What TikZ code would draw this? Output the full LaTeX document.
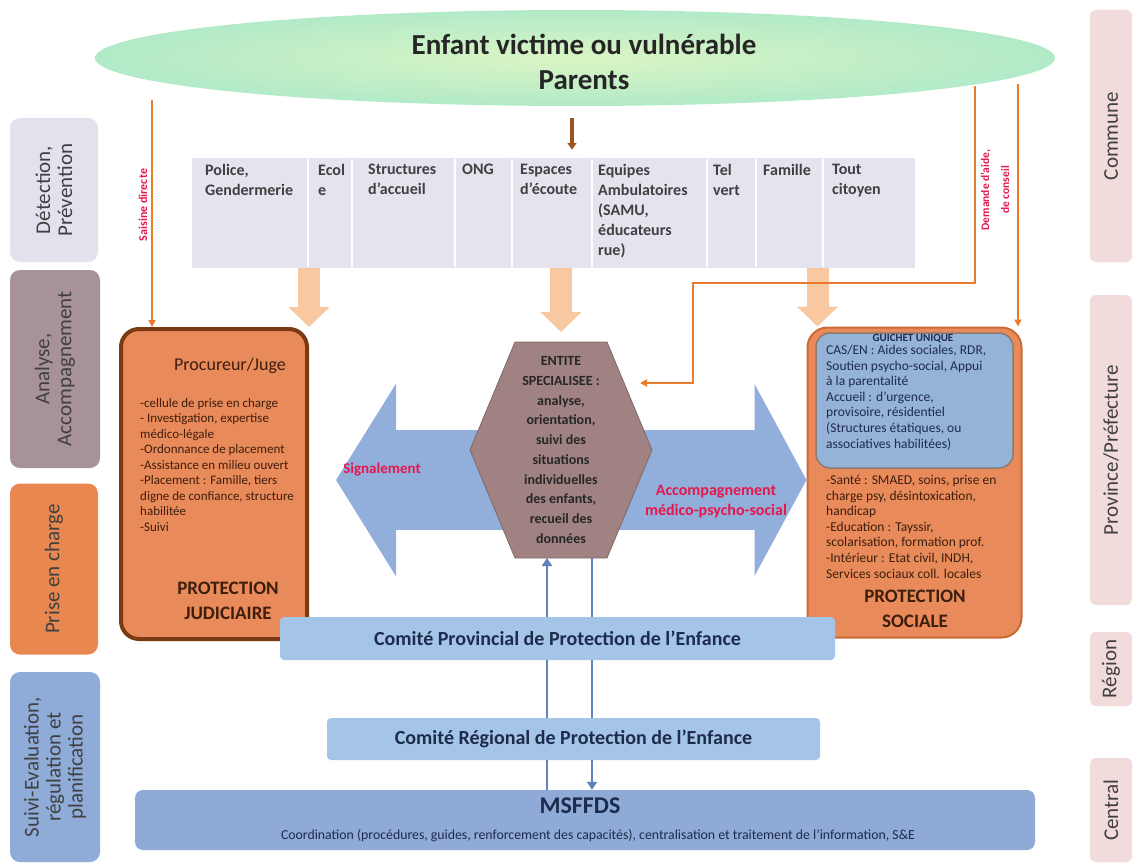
\documentclass[tikz,border=0pt]{standalone}
\usepackage{fontspec}
\setmainfont{Carlito}
\usetikzlibrary{arrows.meta, positioning, shapes.geometric, calc}

\definecolor{ellgreen}{HTML}{DAF5C4}
\definecolor{ellcyan}{HTML}{B2EAC8}
\definecolor{detfill}{HTML}{E3E1EB}
\definecolor{anafill}{HTML}{A8929A}
\definecolor{prisefill}{HTML}{E8874F}
\definecolor{suivifill}{HTML}{8FABD8}
\definecolor{levelfill}{HTML}{F2DCDB}
\definecolor{tablefill}{HTML}{E5E3EE}
\definecolor{boxorange}{HTML}{E98A5B}
\definecolor{judborder}{HTML}{7A3A12}
\definecolor{socborder}{HTML}{CC6A34}
\definecolor{guichetblue}{HTML}{95B3D7}
\definecolor{guichetborder}{HTML}{8C7B73}
\definecolor{peach}{HTML}{F8C8A0}
\definecolor{bigblue}{HTML}{92AEDA}
\definecolor{hexfill}{HTML}{A08282}
\definecolor{comblue}{HTML}{A4C5E8}
\definecolor{minblue}{HTML}{8FAAD6}
\definecolor{redlabel}{HTML}{E5174D}
\definecolor{linkorange}{HTML}{E87B2C}
\definecolor{linkbrown}{HTML}{A0521C}
\definecolor{linkblue}{HTML}{5F82BF}
\definecolor{navytext}{HTML}{1D2B4C}
\definecolor{browntext}{HTML}{3E1E0C}
\definecolor{labeltext}{HTML}{404040}

\tikzset{
  stagebox/.style={rounded corners=10pt, rotate=90, align=center, text=labeltext, font=\fontsize{21}{22}\selectfont, inner sep=2pt},
  levelbox/.style={rounded corners=6pt, rotate=90, fill=levelfill, text=labeltext, font=\fontsize{21}{22}\selectfont, minimum height=42pt},
  celltext/.style={anchor=north west, align=left, text=labeltext, font=\bfseries\fontsize{16}{20}\selectfont, inner sep=0pt},
  smalllist/.style={anchor=north west, align=left, font=\fontsize{13}{15.5}\selectfont, inner sep=0pt},
  protect/.style={align=center, text=browntext, font=\bfseries\fontsize{19}{25}\selectfont},
  blockarrow/.style={peach, line width=22pt, -{Triangle[width=40pt,length=20pt]}},
  bigarrow/.style={bigblue, line width=100pt, {Triangle[width=190pt,length=60pt]}-{Triangle[width=190pt,length=52pt]}},
  orangelink/.style={linkorange, line width=1.8pt, -{Triangle[width=7pt,length=7pt]}},
  brownlink/.style={linkbrown, line width=3.5pt, -{Triangle[width=9pt,length=7pt]}},
  bluelink/.style={linkblue, line width=2.5pt},
  redtext/.style={text=redlabel, font=\bfseries\fontsize{15}{19}\selectfont, align=center},
  comite/.style={fill=comblue, rounded corners=4pt, text=navytext, font=\bfseries\fontsize{20}{24}\selectfont},
}

\begin{document}
\begin{tikzpicture}[x=1pt, y=-1pt]
    \useasboundingbox (0,0) rectangle (1134,867);

    % Enfant / Parents
    \node[ellipse, minimum width=960pt, minimum height=96pt, inner color=ellgreen, outer color=ellcyan] (enfant) at (575,58) {};
    \node[align=center, text=black!85, font=\bfseries\fontsize{29}{35}\selectfont] (enfanttitle) at (584,62) {Enfant victime ou vulnérable\\Parents};

    % Stages (left)
    \node[stagebox, fill=detfill, minimum width=144pt, minimum height=88pt] (detection) at (54,190) {Détection,\\Prévention};
    \node[stagebox, fill=anafill, minimum width=198pt, minimum height=90pt] (analyse) at (55,369) {Analyse,\\Accompagnement};
    \node[stagebox, fill=prisefill, minimum width=171pt, minimum height=88pt] (prise) at (54,569) {Prise en charge};
    \node[stagebox, fill=suivifill, minimum width=190pt, minimum height=90pt] (suivi) at (55,767) {Suivi-Evaluation,\\régulation et\\planification};

    % Levels (right)
    \node[levelbox, minimum width=252pt] (commune) at (1111,136) {Commune};
    \node[levelbox, minimum width=310pt] (province) at (1111,450) {Province/Préfecture};
    \node[levelbox, minimum width=74pt] (region) at (1111,669) {Région};
    \node[levelbox, minimum width=104pt] (central) at (1111,810) {Central};

    % Detection actors
    \node[fill=tablefill, minimum width=723pt, minimum height=110pt, inner sep=0pt] (acteurs) at (553.5,213) {};
    \draw[white, line width=1.2pt] (308,159) -- (308,267);
    \draw[white, line width=1.2pt] (352,159) -- (352,267);
    \draw[white, line width=1.2pt] (455,159) -- (455,267);
    \draw[white, line width=1.2pt] (512,159) -- (512,267);
    \draw[white, line width=1.2pt] (592,159) -- (592,267);
    \draw[white, line width=1.2pt] (707,159) -- (707,267);
    \draw[white, line width=1.2pt] (756,159) -- (756,267);
    \draw[white, line width=1.2pt] (823,159) -- (823,267);
    \node[celltext] (police) at (205,164) {Police,\\Gendermerie};
    \node[celltext] (ecole) at (318,164) {Ecol\\e};
    \node[celltext] (structures) at (368,164) {Structures\\d’accueil};
    \node[celltext] (ong) at (462,164) {ONG};
    \node[celltext] (espaces) at (520,164) {Espaces\\d’écoute};
    \node[celltext] (equipes) at (598,164) {Equipes\\Ambulatoires\\ (SAMU,\\éducateurs\\rue)};
    \node[celltext] (telvert) at (713,164) {Tel\\vert};
    \node[celltext] (famille) at (763,164) {Famille};
    \node[celltext] (citoyen) at (832,164) {Tout\\citoyen};

    % Brown arrow from Enfant to actors
    \coordinate (ensource) at (572,118);
    \draw[brownlink, shorten >=8pt] (ensource) -- (ensource |- acteurs.north);

    % Protection judiciaire
    \node[draw=judborder, line width=4pt, fill=boxorange, rounded corners=18pt, minimum width=186pt, minimum height=310pt] (judiciaire) at (214,484) {};
    \node[text=browntext, font=\fontsize{18}{20}\selectfont] (procureur) at (230,366) {Procureur/Juge};
    \node[smalllist, text=browntext] (judlist) at (140,398) {-cellule de prise en charge\\- Investigation, expertise\\médico-légale\\-Ordonnance de placement\\-Assistance en milieu ouvert\\-Placement : Famille, tiers\\digne de confiance, structure\\habilitée\\-Suivi};
    \node[protect] (judtitle) at (228,601) {PROTECTION\\JUDICIAIRE};

    % Protection sociale
    \node[draw=socborder, line width=2pt, fill=boxorange, rounded corners=20pt, minimum width=214pt, minimum height=310pt] (sociale) at (914.5,482.5) {};
    \node[draw=guichetborder, line width=1.5pt, fill=guichetblue, rounded corners=14pt, minimum width=197pt, minimum height=135pt] (guichet) at (914.5,400.5) {};
    \node[text=navytext, font=\bfseries\fontsize{11}{12}\selectfont] (guichettitle) at (913,339) {GUICHET UNIQUE};
    \node[smalllist, text=navytext, font=\fontsize{13.5}{15.6}\selectfont] (guichetlist) at (826,345) {CAS/EN : Aides sociales, RDR,\\Soutien psycho-social, Appui\\à la parentalité\\Accueil : d’urgence,\\provisoire, résidentiel\\(Structures étatiques, ou\\associatives habilitées)};
    \node[smalllist, text=browntext, font=\fontsize{13.5}{15.6}\selectfont] (soclist) at (826,475) {-Santé : SMAED, soins, prise en\\charge psy, désintoxication,\\handicap\\-Education : Tayssir,\\scolarisation, formation prof.\\-Intérieur : Etat civil, INDH,\\Services sociaux coll. locales};
    \node[protect] (soctitle) at (915,609) {PROTECTION\\SOCIALE};

    % Block arrows from actors
    \coordinate (hextop) at (561,342);
    \coordinate (soctop) at ([xshift=11pt]sociale.north west);
    \draw[blockarrow] (acteurs.south -| judiciaire.north east) -- (judiciaire.north east);
    \draw[blockarrow] (acteurs.south -| hextop) -- ([yshift=10pt]hextop);
    \draw[blockarrow] (acteurs.south -| soctop) -- (soctop);

    % Saisine directe / Demande d'aide
    \coordinate (saisine) at (152,100);
    \draw[orangelink] (saisine) -- (saisine |- judiciaire.north);
    \node[redtext, rotate=90, font=\bfseries\fontsize{12}{13}\selectfont] (saisinelabel) at (143,205) {Saisine directe};
    \coordinate (demande) at (975,86);
    \coordinate (demandebend) at (693,283);
    \coordinate (hexin) at (640,383);
    \draw[orangelink] (demande) |- (demandebend) |- (hexin);
    \coordinate (conseil) at (1018,84);
    \draw[orangelink] (conseil) -- (conseil |- sociale.north);
    \node[redtext, rotate=90, font=\bfseries\fontsize{11.5}{20}\selectfont] (demandelabel) at (995,190) {Demande d’aide,\\de conseil};

    % Signalement / Accompagnement
    \coordinate (sigtip) at (336,480);
    \draw[bigarrow] (sigtip) -- (sigtip -| sociale.west);
    \node[redtext] (signal) at (382,470) {Signalement};
    \node[redtext, font=\bfseries\fontsize{16}{20}\selectfont] (accomp) at (716,502) {Accompagnement\\médico-psycho-social};

    % Entite specialisee
    \coordinate (hexc) at (561,450);
    \filldraw[fill=hexfill, draw=hexfill!80!black, line width=0.8pt] ($(hexc)+(-46,-108)$) -- ($(hexc)+(46,-108)$) -- ($(hexc)+(91,0)$) -- ($(hexc)+(46,108)$) -- ($(hexc)+(-46,108)$) -- ($(hexc)+(-91,0)$) -- cycle;
    \node[align=center, text=black!85, font=\bfseries\fontsize{14}{19.7}\selectfont] (entite) at (hexc) {ENTITE\\SPECIALISEE :\\analyse,\\orientation,\\suivi des\\situations\\individuelles\\des enfants,\\recueil des\\données};

    % Comites
    \node[comite, minimum width=555pt, minimum height=43pt] (cppe) at (557.5,638.5) {Comité Provincial de Protection de l’Enfance};
    \node[comite, minimum width=493pt, minimum height=42pt] (crpe) at (573.5,739) {Comité Régional de Protection de l’Enfance};

    % MSFFDS
    \node[fill=minblue, rounded corners=8pt, minimum width=900pt, minimum height=60pt] (msffds) at (585,820) {};
    \node[text=navytext, font=\bfseries\fontsize{24}{24}\selectfont] (msftitle) at (580,806) {MSFFDS};
    \node[text=navytext, font=\fontsize{13.8}{15}\selectfont] (msfcoord) at (598,836) {Coordination (procédures, guides, renforcement des capacités), centralisation et traitement de l’information, S\&E};

    % Remontee / descente
    \coordinate (upx) at (547,558);
    \coordinate (downx) at (592,558);
    \draw[bluelink, -{Triangle[width=10pt,length=8pt]}] (upx |- cppe.north) -- (upx);
    \draw[bluelink] (downx) -- (downx |- cppe.north);
    \draw[bluelink] (upx |- cppe.south) -- (upx |- crpe.north);
    \draw[bluelink] (downx |- cppe.south) -- (downx |- crpe.north);
    \draw[bluelink] (upx |- msffds.north) -- (upx |- crpe.south);
    \draw[bluelink, -{Triangle[width=10pt,length=8pt]}] (downx |- crpe.south) -- (downx |- msffds.north);
\end{tikzpicture}
\end{document}
